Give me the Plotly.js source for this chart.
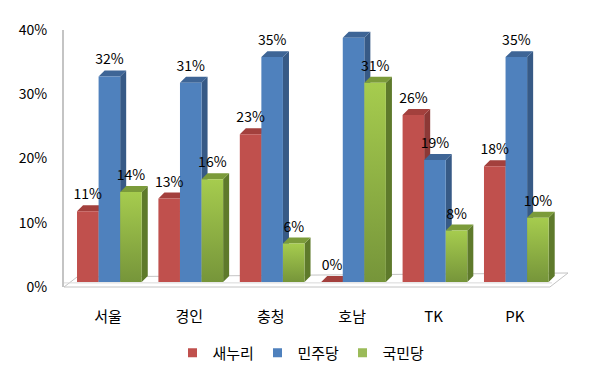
<!DOCTYPE html>
<html>
<head>
<meta charset="utf-8">
<script src="https://cdn.plot.ly/plotly-3.0.1.min.js"></script>
<style>
  html, body { margin: 0; padding: 0; background: #ffffff; }
  #chart { width: 600px; height: 380px; }
</style>
</head>
<body>
<div id="chart"></div>
<script>
// ---- data ----
const categories = ['서울', '경인', '충청', '호남', 'TK', 'PK'];
const seriesNames = ['새누리', '민주당', '국민당'];
const saenuri = [0.11, 0.13, 0.23, 0.00, 0.26, 0.18];
const minju   = [0.32, 0.31, 0.35, 0.38, 0.19, 0.35];
const gukmin  = [0.14, 0.16, 0.06, 0.31, 0.08, 0.10];
const yTicks  = [0, 0.1, 0.2, 0.3, 0.4];

// ---- styles ----
const seriesValues = [saenuri, minju, gukmin];
const styles = [
  { front: '#C0504D', side: '#8C3836', top: '#A3403D', x0: -0.38, grad: null },
  { front: '#4F81BD', side: '#375A86', top: '#3E6596', x0: -0.115, grad: null },
  { front: '#9BBB59', side: '#5E7A2B', top: '#7B9B3A', x0: 0.15,
    grad: [[0, '#76953A'], [1, '#A6CC4E']] }
];
const W = 0.265;      // front face width (category units)
const DX = 0.074;     // depth in x
const DY = 0.0093;    // depth in y
const BASE = 0.0078;  // floor lift
const LABEL_UP = 0.024;

const traces = [];
function poly(xs, ys, color, extra) {
  return Object.assign({
    type: 'scatter', mode: 'lines', x: xs, y: ys, fill: 'toself',
    fillcolor: color, line: { width: 0, color: color },
    hoverinfo: 'skip', showlegend: false
  }, extra || {});
}

seriesValues.forEach((vals, s) => {
  const st = styles[s];
  const sx = [], sy = [], tx = [], ty = [];
  vals.forEach((v, i) => {
    const x0 = i + st.x0, x1 = x0 + W;
    const top = BASE + v;
    // side face
    sx.push(x1, x1 + DX, x1 + DX, x1, x1, null);
    sy.push(BASE, BASE + DY, top + DY, top, BASE, null);
    // top face
    tx.push(x0, x1, x1 + DX, x0 + DX, x0, null);
    ty.push(top, top, top + DY, top + DY, top, null);
  });
  traces.push(poly(sx, sy, st.side));
  traces.push(poly(tx, ty, st.top));
  if (st.grad) {
    vals.forEach((v, i) => {
      const x0 = i + st.x0, x1 = x0 + W;
      const top = BASE + v;
      if (v <= 0) return;
      traces.push(poly([x0, x1, x1, x0, x0], [BASE, BASE, top, top, BASE], st.front, {
        fillgradient: { type: 'vertical', colorscale: st.grad }
      }));
    });
  } else {
    const fx = [], fy = [];
    vals.forEach((v, i) => {
      const x0 = i + st.x0, x1 = x0 + W;
      const top = BASE + v;
      fx.push(x0, x1, x1, x0, x0, null);
      fy.push(BASE, BASE, top, top, BASE, null);
    });
    traces.push(poly(fx, fy, st.front));
  }
});

// data labels
seriesValues.forEach((vals, s) => {
  const st = styles[s];
  traces.push({
    type: 'scatter', mode: 'text',
    x: vals.map((v, i) => i + st.x0 + W / 2),
    y: vals.map(v => BASE + v + LABEL_UP),
    text: vals.map(v => Math.round(v * 100) + '%'),
    textposition: 'middle center',
    textfont: { family: 'Noto Sans CJK KR, Noto Sans, sans-serif', size: 14, color: '#000000' },
    hoverinfo: 'skip', showlegend: false
  });
});

// legend entries
seriesNames.forEach((name, s) => {
  traces.push({
    type: 'scatter', mode: 'markers', x: [null], y: [null], name: name,
    marker: { symbol: 'square', size: 9, color: styles[s].front },
    showlegend: true, hoverinfo: 'skip'
  });
});

const layout = {
  width: 600, height: 380,
  margin: { l: 64, r: 33, t: 30, b: 93 },
  paper_bgcolor: '#ffffff', plot_bgcolor: 'rgba(0,0,0,0)',
  font: { family: 'Noto Sans CJK KR, Noto Sans, sans-serif', size: 14, color: '#000000' },
  showlegend: true,
  xaxis: {
    type: 'linear', range: [-0.54, 5.64],
    tickvals: categories.map((c, i) => i), ticktext: categories,
    showgrid: false, zeroline: false, showline: false, ticks: '',
    ticklabelstandoff: 19,
    tickfont: { size: 15 }, fixedrange: true
  },
  yaxis: {
    range: [0, 0.4], tickvals: yTicks, tickformat: '.0%',
    showgrid: false, zeroline: false, showline: true,
    linecolor: '#C4C4C4', linewidth: 2, ticks: '',
    ticklabelstandoff: 12, tickfont: { size: 14 }, fixedrange: true
  },
  legend: {
    orientation: 'h', xref: 'container', yref: 'container',
    x: 0.5, xanchor: 'center', y: 1 - 353 / 380, yanchor: 'middle',
    font: { size: 15 }, itemwidth: 30, traceorder: 'normal',
    entrywidth: 40
  },
  shapes: [
    { type: 'path', xref: 'paper', yref: 'paper', layer: 'below',
      path: 'M0,0 L0.966,0 L1.002,0.0545 L0.026,0.039 Z',
      fillcolor: '#FFFFFF', line: { color: '#C4C4C4', width: 1 } },
    { type: 'line', xref: 'paper', yref: 'paper', layer: 'below',
      x0: 0.0, y0: 0.016, x1: 0.97, y1: 0.016,
      line: { color: '#D9D9D9', width: 1 } }
  ]
};

Plotly.newPlot('chart', traces, layout, { displayModeBar: false, staticPlot: true });
</script>
</body>
</html>
